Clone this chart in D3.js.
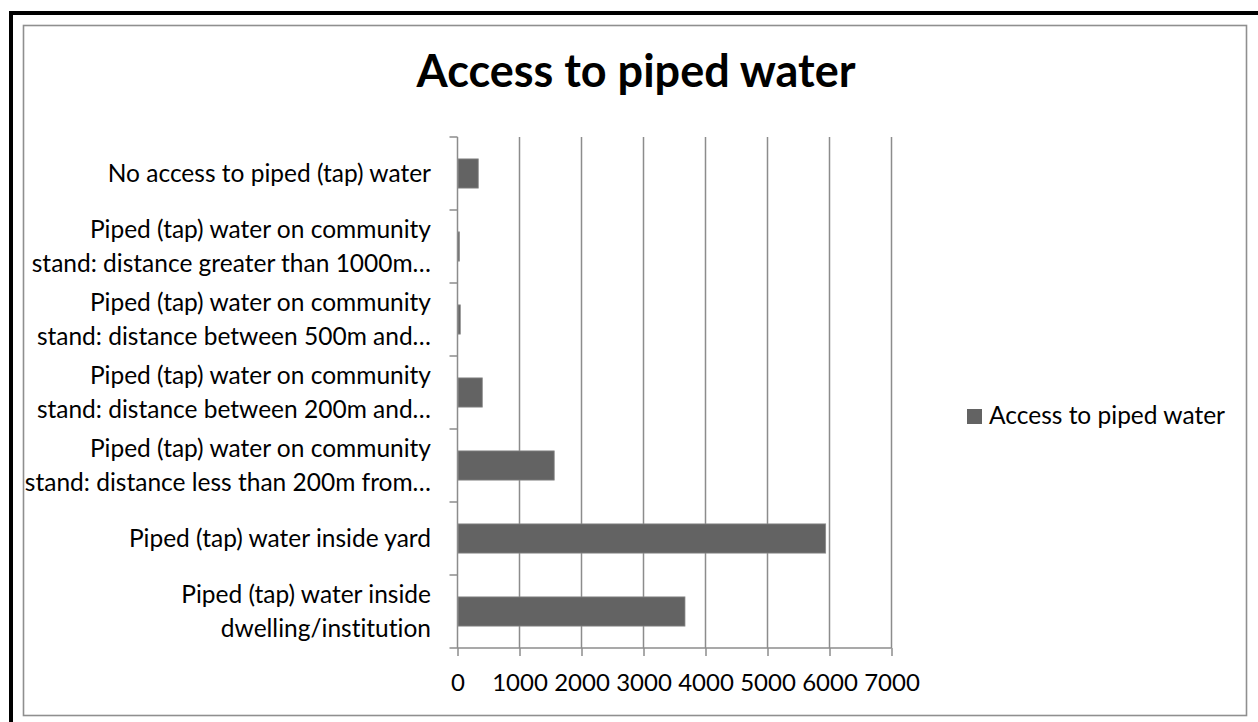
<!DOCTYPE html>
<html>
<head>
<meta charset="utf-8">
<script src="https://cdn.jsdelivr.net/npm/d3@7/dist/d3.min.js"></script>
<style>
  html, body { margin: 0; padding: 0; background: #fff; }
  svg { display: block; }
  text { font-family: Lato, "Open Sans", sans-serif; fill: #000; font-variant-ligatures: none; }
</style>
</head>
<body>
<svg id="chart" width="1258" height="722"></svg>
<script>
// Categories, top to bottom as shown; "\n" splits a label onto two lines
const categories = [
  "No access to piped (tap) water",
  "Piped (tap) water on community\nstand: distance greater than 1000m…",
  "Piped (tap) water on community\nstand: distance between 500m and…",
  "Piped (tap) water on community\nstand: distance between 200m and…",
  "Piped (tap) water on community\nstand: distance less than 200m from…",
  "Piped (tap) water inside yard",
  "Piped (tap) water inside\ndwelling/institution"
];
const values = [335, 30, 45, 400, 1560, 5938, 3669];
const xTicks = [0, 1000, 2000, 3000, 4000, 5000, 6000, 7000];
const seriesName = "Access to piped water";
const title = "Access to piped water";

const svg = d3.select("#chart");
const W = 1258, H = 722;
const FS = 24.5;

// Frame: heavy black edges on the left and top, thin grey chart box inside
svg.append("rect").attr("x", 9).attr("y", 11).attr("width", 4).attr("height", H - 11).attr("fill", "#000");
svg.append("rect").attr("x", 9).attr("y", 11).attr("width", W - 9).attr("height", 4).attr("fill", "#000");
svg.append("rect").attr("x", 23.5).attr("y", 25.5).attr("width", 1223).attr("height", 690)
  .attr("fill", "#fff").attr("stroke", "#8f8f8f").attr("stroke-width", 1.6);

const plot = { left: 457.5, right: 891.5, top: 137, bottom: 648 };

const x = d3.scaleLinear().domain([0, 7000]).range([plot.left, plot.right]);
const y = d3.scaleBand().domain(categories).range([plot.top, plot.bottom])
  .paddingInner(0.6).paddingOuter(0.3);

const data = categories.map((c, i) => ({ cat: c, val: values[i] }));

// Vertical gridlines
svg.append("g").selectAll("line").data(xTicks.slice(1)).join("line")
  .attr("x1", d => x(d)).attr("x2", d => x(d))
  .attr("y1", plot.top).attr("y2", plot.bottom)
  .attr("stroke", "#8c8c8c").attr("stroke-width", 1.5);

// Bars
svg.append("g").selectAll("rect").data(data).join("rect")
  .attr("x", x(0) + 0.5)
  .attr("y", d => y(d.cat))
  .attr("width", d => Math.max(0, x(d.val) - x(0) - 0.5))
  .attr("height", y.bandwidth())
  .attr("fill", "#636363")
  .attr("stroke", "#8a8a8a").attr("stroke-width", 0.8);

// Bottom axis
const xAxis = d3.axisBottom(x).tickValues(xTicks).tickSize(8).tickFormat(d3.format("d")).tickPadding(18);
const gx = svg.append("g").attr("transform", `translate(0,${plot.bottom})`).call(xAxis);
gx.select(".domain").attr("stroke", "#8c8c8c").attr("stroke-width", 1.5).attr("d", `M${plot.left},0H${plot.right}`);
gx.selectAll(".tick line").attr("stroke", "#8c8c8c").attr("stroke-width", 1.5);
gx.selectAll(".tick text").attr("font-size", 24).attr("font-family", "Lato, sans-serif").attr("fill", "#000");

// Left axis: boundary ticks between categories
const bounds = d3.range(categories.length + 1).map(i => plot.top + i * y.step());
const gy = svg.append("g");
gy.append("line").attr("x1", plot.left).attr("x2", plot.left).attr("y1", plot.top).attr("y2", plot.bottom)
  .attr("stroke", "#8c8c8c").attr("stroke-width", 1.5);
gy.selectAll("line.tk").data(bounds).join("line").attr("class", "tk")
  .attr("x1", plot.left - 8).attr("x2", plot.left)
  .attr("y1", d => d).attr("y2", d => d)
  .attr("stroke", "#8c8c8c").attr("stroke-width", 1.5);

// Category labels, right-aligned and centred on each band
const lineH = 33.5;
const labels = svg.append("g");
data.forEach(d => {
  const lines = d.cat.split("\n");
  const cy = y(d.cat) + y.bandwidth() / 2;
  const t = labels.append("text").attr("text-anchor", "end").attr("font-size", FS);
  lines.forEach((ln, j) => {
    t.append("tspan").attr("x", 431)
      .attr("y", cy + (j - (lines.length - 1) / 2) * lineH + 8.5)
      .text(ln);
  });
});

// Title
svg.append("text").attr("x", 636).attr("y", 87).attr("text-anchor", "middle")
  .attr("font-size", 45).attr("font-weight", "bold").text(title);

// Legend
const lg = svg.append("g");
lg.append("rect").attr("x", 967).attr("y", 409).attr("width", 15).attr("height", 15).attr("fill", "#636363");
lg.append("text").attr("x", 989).attr("y", 424).attr("font-size", FS).text(seriesName);
</script>
</body>
</html>
